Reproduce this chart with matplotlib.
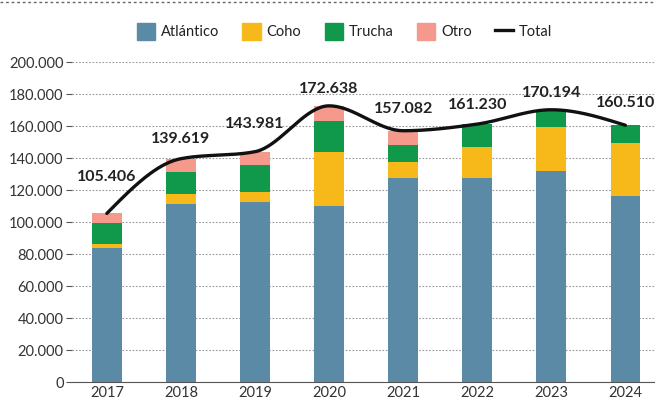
import numpy as np
import matplotlib
matplotlib.use("Agg")
import matplotlib.pyplot as plt
from matplotlib.ticker import FuncFormatter
from matplotlib.lines import Line2D
from matplotlib.patches import Patch

plt.rcParams['font.family'] = ['Lato', 'DejaVu Sans']

# Datos (toneladas)
anios = ["2017", "2018", "2019", "2020", "2021", "2022", "2023", "2024"]
atlantico = [83.8, 111.0, 112.7, 110.2, 127.3, 127.3, 131.9, 116.2]
coho = [2.7, 6.3, 6.3, 33.3, 10.5, 19.9, 27.3, 33.5]
trucha = [12.6, 14.2, 16.7, 19.4, 10.5, 14.0, 10.4, 10.7]
otro = [6.3, 8.1, 8.3, 9.7, 8.8, 0.0, 0.6, 0.1]
total = [105406, 139619, 143981, 172638, 157082, 161230, 170194, 160510]
etiquetas_total = ["105.406", "139.619", "143.981", "172.638",
                   "157.082", "161.230", "170.194", "160.510"]

colores = {"Atlántico": "#5b8aa6", "Coho": "#f7b919",
           "Trucha": "#10994a", "Otro": "#f4998b"}


# Curva suave tipo "monotone" para la línea del total
def curva_monotona(x, y, n=40):
    x = np.asarray(x, float)
    y = np.asarray(y, float)
    h = np.diff(x)
    s = np.diff(y) / h
    t = np.zeros_like(y)
    for i in range(1, len(y) - 1):
        p = (s[i - 1] * h[i] + s[i] * h[i - 1]) / (h[i - 1] + h[i])
        t[i] = (np.sign(s[i - 1]) + np.sign(s[i])) * min(abs(s[i - 1]), abs(s[i]), 0.5 * abs(p))
    t[0] = (3 * s[0] - t[1]) / 2
    t[-1] = (3 * s[-1] - t[-2]) / 2
    xs, ys = [], []
    for i in range(len(x) - 1):
        u = np.linspace(0, 1, n)
        h00 = 2 * u**3 - 3 * u**2 + 1
        h10 = u**3 - 2 * u**2 + u
        h01 = -2 * u**3 + 3 * u**2
        h11 = u**3 - u**2
        xs.extend(x[i] + u * h[i])
        ys.extend(h00 * y[i] + h10 * h[i] * t[i] + h01 * y[i + 1] + h11 * h[i] * t[i + 1])
    return np.array(xs), np.array(ys)


fig = plt.figure(figsize=(6.55, 4.03), dpi=100)
ax = fig.add_axes([0.11, 0.052, 0.89, 0.794])

x = np.arange(len(anios))
ancho = 0.4
base = np.zeros(len(anios))
for nombre, serie in [("Atlántico", atlantico), ("Coho", coho),
                      ("Trucha", trucha), ("Otro", otro)]:
    vals = np.array(serie) * 1000
    ax.bar(x, vals, ancho, bottom=base, color=colores[nombre], zorder=2)
    base += vals

cx, cy = curva_monotona(x, total)
ax.plot(cx, cy, color="#111111", lw=2.4, zorder=3, solid_capstyle="round")

desplaz = [26, 14, 20, 12, 16, 14, 12, 16]
for xi, yi, txt, d in zip(x, total, etiquetas_total, desplaz):
    ax.annotate(txt, (xi, yi), xytext=(0, d), textcoords="offset points",
                ha="center", va="center", fontsize=11.5, fontweight="bold",
                color="#222222", zorder=4)

ax.set_xlim(-0.47, 7.4)
ax.set_ylim(0, 200000)
ax.set_yticks(np.arange(0, 200001, 20000))
ax.yaxis.set_major_formatter(FuncFormatter(lambda v, p: f"{int(v):,}".replace(",", ".")))
ax.set_xticks(x)
ax.set_xticklabels(anios)
ax.grid(axis="y", linestyle=(0, (1.5, 1.5)), color="#9a9a9a", lw=0.8, zorder=0)
for lado in ["top", "right", "left"]:
    ax.spines[lado].set_visible(False)
ax.spines["bottom"].set_color("#555555")
ax.tick_params(axis="y", length=4, color="#555555", labelsize=10.5, labelcolor="#333333", pad=2)
ax.tick_params(axis="x", length=0, labelsize=10.5, labelcolor="#333333", pad=3)

# línea punteada superior
fig.add_artist(Line2D([0, 1], [0.995, 0.995], color="#666666", lw=1,
                      linestyle=(0, (2, 2)), transform=fig.transFigure))

handles = [Patch(color=colores[n], label=n) for n in ["Atlántico", "Coho", "Trucha", "Otro"]]
handles.append(Line2D([0], [0], color="#111111", lw=2.4, label="Total"))
fig.legend(handles=handles, loc="upper center", bbox_to_anchor=(0.526, 0.975),
           ncol=5, frameon=False, fontsize=10.5, handlelength=1.25, handleheight=1.35,
           columnspacing=1.6, handletextpad=0.4, labelcolor="#222222")

fig.savefig("out.png", dpi=100)
